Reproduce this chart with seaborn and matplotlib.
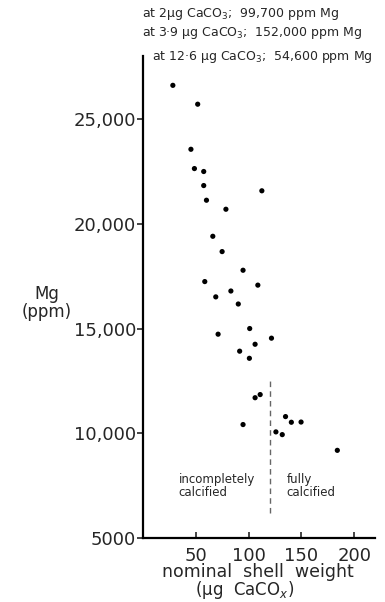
import numpy as np
import matplotlib
matplotlib.use("Agg")
import matplotlib.pyplot as plt
import seaborn as sns
import pandas as pd

# nominal shell weight (ug CaCO3) and Mg (ppm)
shell_weight = [28.4, 51.9, 45.5, 48.8, 57.6, 57.6, 60.2, 112.6, 78.6, 66.2,
                75.0, 94.8, 58.6, 108.8, 83.3, 69.0, 90.3, 101.1, 71.2, 121.7,
                106.2, 91.6, 100.8, 106.2, 111.0, 94.8, 135.0, 140.5, 149.7,
                125.9, 131.9, 184.0]
mg_ppm = [26600, 25700, 23550, 22630, 22490, 21820, 21120, 21570, 20690, 19400,
          18670, 17780, 17240, 17070, 16790, 16510, 16170, 15000, 14730, 14540,
          14250, 13920, 13580, 11700, 11850, 10420, 10800, 10530, 10540,
          10070, 9940, 9190]

x_ticks = [50, 100, 150, 200]
y_ticks = [5000, 10000, 15000, 20000, 25000]
y_tick_labels = ['5000', '10,000', '15,000', '20,000', '25,000']

off_scale_notes = [
    'at 2\u00b5g CaCO$_3$;  99,700 ppm Mg',
    'at 3\u00b79 \u00b5g CaCO$_3$;  152,000 ppm Mg',
    'at 12\u00b76 \u00b5g CaCO$_3$;  54,600 ppm Mg',
]

df = pd.DataFrame({'weight': shell_weight, 'mg': mg_ppm})

sns.set_style('ticks')
plt.rcParams['font.family'] = ['DejaVu Sans']

fig = plt.figure(figsize=(3.85, 6.02), dpi=100)
ax = fig.add_axes([0.371, 0.106, 0.604, 0.801])

sns.scatterplot(data=df, x='weight', y='mg', color='black', s=14,
                edgecolor='none', ax=ax)

# boundary between incompletely and fully calcified shells
ax.plot([120, 120], [6200, 12500], ls=(0, (4, 3)), color='0.4', lw=1)
ax.text(34, 7500, 'incompletely\ncalcified', fontsize=8.5, va='center',
        ha='left', linespacing=1.0)
ax.text(136, 7500, 'fully\ncalcified', fontsize=8.5, va='center',
        ha='left', linespacing=1.0)

ax.set_xlim(0, 220)
ax.set_ylim(5000, 28000)
ax.set_xticks(x_ticks)
ax.set_xticklabels([str(t) for t in x_ticks], fontsize=13)
ax.set_yticks(y_ticks)
ax.set_yticklabels(y_tick_labels, fontsize=13)
ax.tick_params(axis='x', direction='in', length=4, width=1.2, pad=6)
ax.tick_params(axis='y', direction='out', length=4, width=1.2, pad=1)
ax.set_xlabel('')
ax.set_ylabel('')

sns.despine(ax=ax)
for side in ['left', 'bottom']:
    ax.spines[side].set_linewidth(1.6)
    ax.spines[side].set_color('black')

fig.text(258 / 385, 1 - 572 / 602, 'nominal  shell  weight', fontsize=12.5,
         ha='center', va='center')
fig.text(245 / 385, 1 - 590 / 602, '(\u00b5g  CaCO$_x$)', fontsize=12,
         ha='center', va='center')
fig.text(47 / 385, 1 - 303 / 602, 'Mg\n(ppm)', fontsize=12, ha='center',
         va='center', linespacing=1.0)

note_x = [142, 142, 152]
note_y = [14, 33, 57]
for nx, ny, note in zip(note_x, note_y, off_scale_notes):
    fig.text(nx / 385, 1 - ny / 602, note, fontsize=9, ha='left',
             va='center')

fig.savefig('out.png', dpi=100)
